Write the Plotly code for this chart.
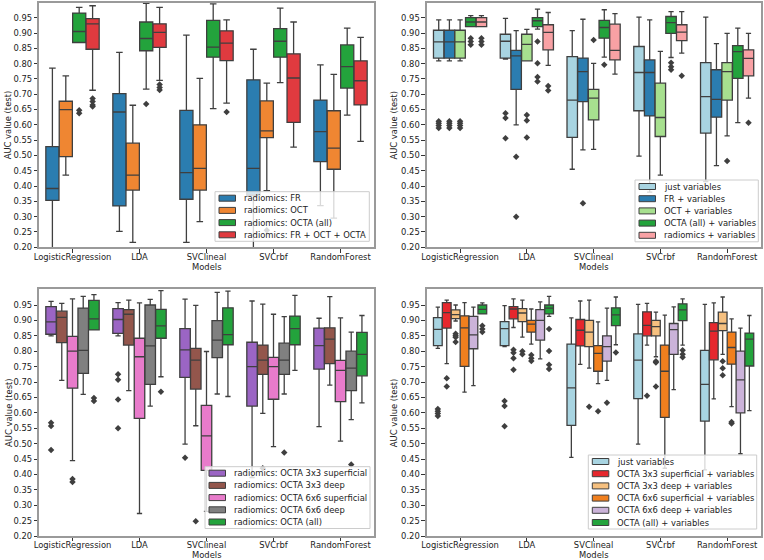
import plotly.graph_objects as go
from plotly.subplots import make_subplots

# ---------------- data ----------------
models = ["LogisticRegression", "LDA", "SVClineal", "SVCrbf", "RandomForest"]
ytick_vals = [0.20, 0.25, 0.30, 0.35, 0.40, 0.45, 0.50, 0.55, 0.60, 0.65, 0.70, 0.75, 0.80, 0.85, 0.90, 0.95]
ytick_text = ["0.20", "0.25", "0.30", "0.35", "0.40", "0.45", "0.50", "0.55", "0.60", "0.65", "0.70", "0.75", "0.80", "0.85", "0.90", "0.95"]
x_title = "Models"
y_title = "AUC value (test)"

# box stats per model: (lower whisker, Q1, median, Q3, upper whisker); outliers per model
FR = [(0.17, 0.353, 0.392, 0.529, 0.785), (0.252, 0.335, 0.642, 0.702, 0.837), (0.216, 0.357, 0.444, 0.647, 0.893),
      (0.15, 0.37, 0.458, 0.747, 0.847), (0.336, 0.480, 0.578, 0.681, 0.796)]
FR_out = [[], [], [], [], []]
OCT = [(0.436, 0.496, 0.650, 0.677, 0.760), (0.216, 0.387, 0.436, 0.540, 0.664), (0.284, 0.387, 0.458, 0.600, 0.752),
       (0.385, 0.558, 0.580, 0.678, 0.736), (0.295, 0.455, 0.524, 0.646, 0.765)]
OCT_out = [[], [], [], [0.256], []]
OCTA = [(0.869, 0.869, 0.905, 0.965, 0.984), (0.717, 0.842, 0.882, 0.936, 0.997), (0.653, 0.821, 0.854, 0.941, 0.995),
        (0.738, 0.821, 0.873, 0.914, 0.981), (0.632, 0.720, 0.790, 0.861, 0.916)]
OCTA_out = [[0.648, 0.638], [0.668], [], [], []]
ALL = [(0.713, 0.847, 0.930, 0.947, 0.989), (0.745, 0.853, 0.902, 0.930, 0.984), (0.671, 0.810, 0.867, 0.907, 0.943),
       (0.527, 0.608, 0.753, 0.832, 0.936), (0.546, 0.665, 0.744, 0.809, 0.886)]
ALL_out = [[0.686, 0.676, 0.665, 0.660], [0.732, 0.722, 0.714], [0.642], [], []]

JV = [(0.809, 0.818, 0.871, 0.909, 0.943), (0.815, 0.818, 0.873, 0.896, 0.948), (0.455, 0.559, 0.681, 0.823, 0.908),
      (0.498, 0.646, 0.771, 0.856, 0.952), (0.415, 0.573, 0.692, 0.803, 0.952)]
JV_out = [[0.612, 0.605, 0.598, 0.590], [0.638, 0.622, 0.556], [], [], []]
FRV = [(0.809, 0.818, 0.871, 0.909, 0.943), (0.600, 0.716, 0.825, 0.843, 0.908), (0.518, 0.676, 0.774, 0.818, 0.945),
       (0.38, 0.629, 0.771, 0.812, 0.943), (0.467, 0.625, 0.683, 0.780, 0.865)]
FRV_out = [[0.612, 0.605, 0.598, 0.590], [0.496, 0.300], [0.344], [], []]
OCTV = [(0.809, 0.818, 0.871, 0.909, 0.943), (0.809, 0.809, 0.863, 0.896, 0.912), (0.520, 0.616, 0.687, 0.716, 0.801),
        (0.436, 0.562, 0.624, 0.736, 0.840), (0.564, 0.681, 0.774, 0.803, 0.899)]
OCTV_out = [[0.612, 0.605, 0.598, 0.590], [0.632, 0.614, 0.559], [0.877], [], [0.482]]
OCTAV = [(0.921, 0.921, 0.936, 0.950, 0.957), (0.913, 0.921, 0.940, 0.950, 0.978), (0.821, 0.883, 0.918, 0.941, 0.976),
         (0.820, 0.899, 0.934, 0.954, 0.970), (0.607, 0.752, 0.839, 0.859, 0.916)]
OCTAV_out = [[0.883, 0.872, 0.862], [0.872, 0.801, 0.756, 0.742], [0.796], [0.803, 0.790, 0.780], []]
RADV = [(0.921, 0.921, 0.936, 0.950, 0.957), (0.794, 0.845, 0.902, 0.927, 0.967), (0.766, 0.812, 0.843, 0.929, 0.963),
        (0.834, 0.875, 0.903, 0.927, 0.970), (0.687, 0.760, 0.817, 0.845, 0.899)]
RADV_out = [[0.883, 0.872, 0.862], [0.727, 0.712], [], [0.760], [0.607]]

S33 = [(0.850, 0.855, 0.895, 0.945, 0.962), (0.850, 0.858, 0.903, 0.938, 0.958), (0.498, 0.715, 0.804, 0.873, 0.969),
       (0.39, 0.622, 0.750, 0.829, 0.963), (0.555, 0.742, 0.818, 0.875, 0.907)]
S33_out = [[0.568, 0.557, 0.479], [0.725, 0.707, 0.643, 0.550], [0.454], [], []]
D33 = [(0.705, 0.828, 0.910, 0.930, 0.955), (0.672, 0.820, 0.920, 0.935, 0.966), (0.558, 0.677, 0.771, 0.809, 0.949),
       (0.598, 0.725, 0.771, 0.820, 0.953), (0.690, 0.760, 0.839, 0.876, 0.977)]
D33_out = [[], [], [0.248], [0.420], []]
S66 = [(0.445, 0.680, 0.800, 0.848, 0.970), (0.273, 0.582, 0.782, 0.842, 0.957), (0.28, 0.413, 0.525, 0.624, 0.799),
       (0.490, 0.644, 0.750, 0.780, 0.920), (0.508, 0.636, 0.738, 0.770, 0.908)]
S66_out = [[0.385, 0.375], [], [], [], []]
D66 = [(0.660, 0.728, 0.803, 0.940, 0.978), (0.622, 0.692, 0.817, 0.950, 0.968), (0.661, 0.779, 0.836, 0.899, 0.991),
       (0.661, 0.725, 0.771, 0.826, 0.912), (0.578, 0.672, 0.745, 0.800, 0.862)]
D66_out = [[], [], [], [0.471], [0.432]]

S33V = [(0.760, 0.875, 0.925, 0.958, 0.966), (0.877, 0.905, 0.937, 0.945, 0.970), (0.757, 0.817, 0.868, 0.903, 0.963),
        (0.820, 0.850, 0.884, 0.928, 0.955), (0.645, 0.772, 0.865, 0.893, 0.957)]
S33V_out = [[0.712, 0.685], [0.805, 0.795, 0.777, 0.740], [], [0.655], []]
D33V = [(0.898, 0.906, 0.919, 0.934, 0.950), (0.846, 0.896, 0.924, 0.938, 0.966), (0.745, 0.815, 0.862, 0.900, 0.966),
        (0.782, 0.850, 0.880, 0.900, 0.927), (0.790, 0.867, 0.890, 0.927, 0.976)]
D33V_out = [[0.857, 0.850, 0.845, 0.830], [0.800, 0.790], [0.620], [0.767, 0.763, 0.685], [0.767, 0.745, 0.722]]
S66V = [(0.667, 0.751, 0.876, 0.915, 0.958), (0.823, 0.862, 0.888, 0.900, 0.937), (0.695, 0.735, 0.793, 0.818, 0.895),
        (0.42, 0.585, 0.735, 0.820, 0.917), (0.620, 0.758, 0.812, 0.862, 0.905)]
S66V_out = [[], [0.788, 0.777, 0.768], [0.605], [], [0.570, 0.565]]
D66V = [(0.688, 0.808, 0.853, 0.913, 0.943), (0.775, 0.836, 0.900, 0.935, 0.960), (0.705, 0.768, 0.815, 0.850, 0.940),
        (0.675, 0.790, 0.870, 0.890, 0.944), (0.467, 0.600, 0.707, 0.800, 0.875)]
D66V_out = [[], [], [0.633], [], []]

# ---------------- style ----------------
W, H = 764, 560
EDGE = "#3f3f3f"
FONT = "DejaVu Sans"
FS = 8.4
TXT = "#222222"

panels = [
    dict(row=1, col=1, leg=(215, 191.7, 369.3), yr=[0.2, 0.999],
         box=(39, 374, 2.7, 247.3), ytx=8.3, xty=266.5,
         series=[("radiomics: FR", FR, FR_out, "#2b7db0"),
                 ("radiomics: OCT", OCT, OCT_out, "#ef8632"),
                 ("radiomics: OCTA (all)", OCTA, OCTA_out, "#23a33c"),
                 ("radiomics: FR + OCT + OCTA", ALL, ALL_out, "#e03a3f")]),
    dict(row=1, col=2, leg=(635, 180, 758.3), yr=[0.2, 0.999],
         box=(426.7, 760.5, 2.7, 247.3), ytx=393.5, xty=266.5,
         series=[("just variables", JV, JV_out, "#a8d4e1"),
                 ("FR + variables", FRV, FRV_out, "#2b7db0"),
                 ("OCT + variables", OCTV, OCTV_out, "#a7e08f"),
                 ("OCTA (all) + variables", OCTAV, OCTAV_out, "#23a33c"),
                 ("radiomics + variables", RADV, RADV_out, "#f8a1a4")]),
    dict(row=2, col=1, leg=(205, 466.7, 370), yr=[0.2, 1.001],
         box=(39, 374, 289.3, 536), ytx=8.3, xty=555,
         series=[("radiomics: OCTA 3x3 superficial", S33, S33_out, "#9b65c4"),
                 ("radiomics: OCTA 3x3 deep", D33, D33_out, "#93564c"),
                 ("radiomics: OCTA 6x6 superficial", S66, S66_out, "#e87bcb"),
                 ("radiomics: OCTA 6x6 deep", D66, D66_out, "#808080"),
                 ("radiomics: OCTA (all)", OCTA, OCTA_out, "#23a33c")]),
    dict(row=2, col=2, leg=(588.3, 455, 756.7), yr=[0.2, 1.001],
         box=(426.7, 760.5, 289.3, 536), ytx=393.5, xty=555,
         series=[("just variables", JV, JV_out, "#a8d4e1"),
                 ("OCTA 3x3 superficial + variables", S33V, S33V_out, "#e6272d"),
                 ("OCTA 3x3 deep + variables", D33V, D33V_out, "#f6c07f"),
                 ("OCTA 6x6 superficial + variables", S66V, S66V_out, "#f07f1e"),
                 ("OCTA 6x6 deep + variables", D66V, D66V_out, "#cbb3d9"),
                 ("OCTA (all) + variables", OCTAV, OCTAV_out, "#23a33c")]),
]

fig = make_subplots(rows=2, cols=2)

shapes = []
annotations = []


def px(x):
    return x / W


def py(y):
    return 1 - y / H


axis_common = dict(showline=True, mirror=True, linecolor="#9a9a9a", linewidth=1.5,
                   ticks="outside", ticklen=3.5, tickwidth=0.8, tickcolor="#333333",
                   showgrid=False, zeroline=False,
                   tickfont=dict(family=FONT, size=FS, color=TXT))

for p in panels:
    r, c = p["row"], p["col"]
    n = len(p["series"])
    bw = 0.8 / n
    for j, (name, stats, outs, color) in enumerate(p["series"]):
        off = -0.4 + (j + 0.5) * bw
        xs = [i + off for i in range(len(models))]
        fig.add_trace(go.Box(
            x=xs,
            lowerfence=[s[0] for s in stats], q1=[s[1] for s in stats], median=[s[2] for s in stats],
            q3=[s[3] for s in stats], upperfence=[s[4] for s in stats],
            width=bw * 0.98, fillcolor=color, line=dict(color=EDGE, width=1.3),
            whiskerwidth=0.5, boxpoints=False, name=name, showlegend=False, hoverinfo="skip"),
            row=r, col=c)
        ox = [i + off for i, o in enumerate(outs) for _ in o]
        oy = [v for o in outs for v in o]
        if ox:
            fig.add_trace(go.Scatter(
                x=ox, y=oy, mode="markers",
                marker=dict(symbol="diamond", size=5, color=EDGE, line=dict(width=0)),
                showlegend=False, hoverinfo="skip"), row=r, col=c)

    # legend (drawn as shapes + text, matplotlib style)
    left, top, right = p["leg"]
    rowh, pad = 12.2, 6.5
    bottom = top + 2 * pad + (n - 1) * rowh
    shapes.append(dict(type="rect", xref="paper", yref="paper", layer="above",
                       x0=px(left), x1=px(right), y0=py(bottom), y1=py(top),
                       fillcolor="rgba(255,255,255,0.8)", line=dict(color="#cccccc", width=1)))
    for k, (name, stats, outs, color) in enumerate(p["series"]):
        cy = top + pad + k * rowh
        shapes.append(dict(type="rect", xref="paper", yref="paper", layer="above",
                           x0=px(left + 4), x1=px(left + 20.5), y0=py(cy + 3), y1=py(cy - 3),
                           fillcolor=color, line=dict(color=EDGE, width=1)))
        annotations.append(dict(xref="paper", yref="paper", x=px(left + 26.5), y=py(cy),
                                xanchor="left", yanchor="middle", showarrow=False, text=name,
                                font=dict(family=FONT, size=FS, color=TXT)))

    # axes
    x0, x1, y0, y1 = p["box"]
    fig.update_xaxes(domain=[px(x0), px(x1)], range=[-0.5, 4.5], tickmode="array",
                     tickvals=list(range(len(models))), ticktext=models, ticklabelstandoff=-3,
                     automargin=False, row=r, col=c, **axis_common)
    fig.update_yaxes(domain=[py(y1), py(y0)], range=p["yr"], tickmode="array",
                     tickvals=ytick_vals, ticktext=ytick_text,
                     automargin=False, row=r, col=c, **axis_common)
    # axis titles
    annotations.append(dict(xref="paper", yref="paper", x=px((x0 + x1) / 2), y=py(p["xty"]),
                            xanchor="center", yanchor="middle", showarrow=False, text=x_title,
                            font=dict(family=FONT, size=FS, color=TXT)))
    annotations.append(dict(xref="paper", yref="paper", x=px(p["ytx"]), y=py((y0 + y1) / 2),
                            xanchor="center", yanchor="middle", showarrow=False, text=y_title,
                            textangle=-90, font=dict(family=FONT, size=FS, color=TXT)))

fig.update_layout(width=W, height=H, margin=dict(l=0, r=0, t=0, b=0),
                  paper_bgcolor="white", plot_bgcolor="white",
                  boxmode="overlay", showlegend=False,
                  shapes=shapes, annotations=annotations,
                  font=dict(family=FONT, size=FS, color=TXT))

fig.write_html("out.html", config={"displayModeBar": False},
               post_script="document.body.style.margin='0';document.body.style.overflow='hidden';")
